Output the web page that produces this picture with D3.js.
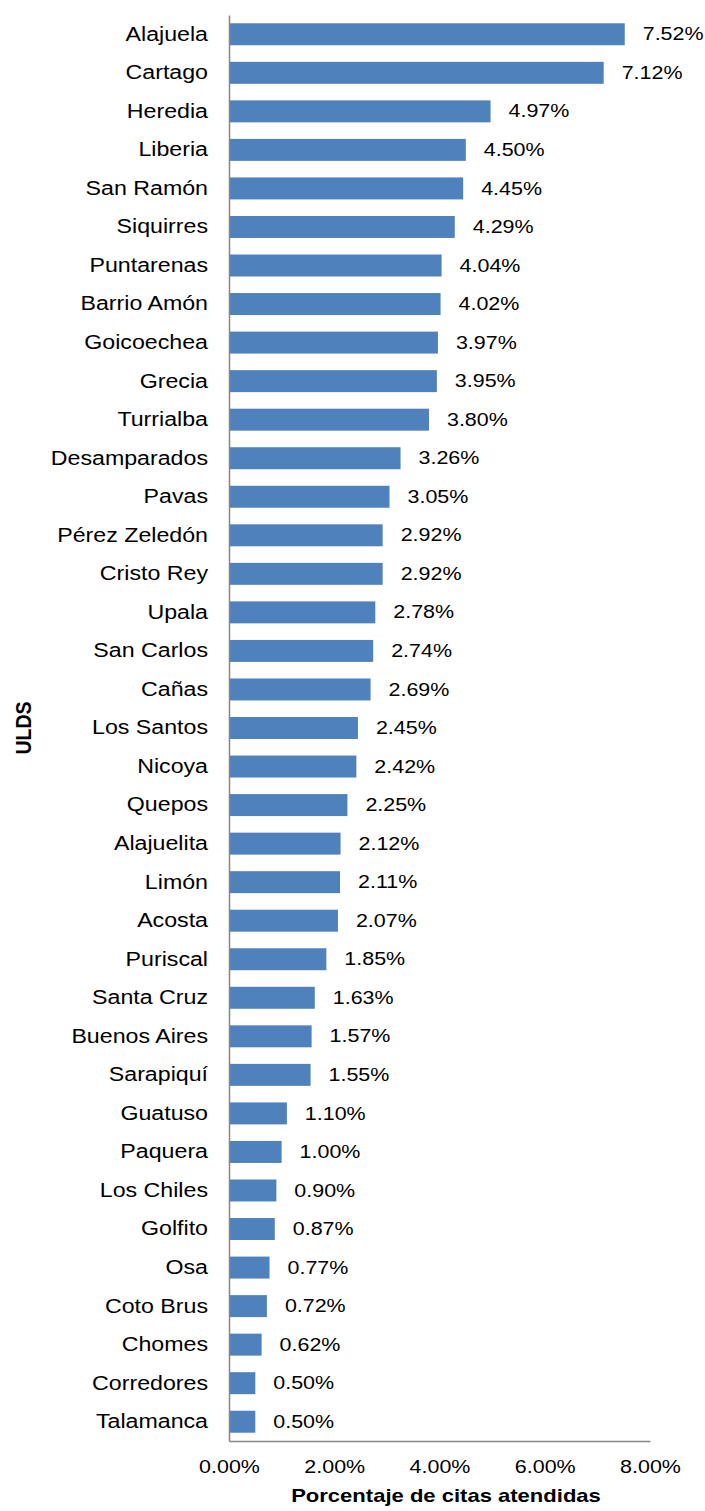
<!DOCTYPE html>
<html>
<head>
<meta charset="utf-8">
<script src="https://cdn.jsdelivr.net/npm/d3@7"></script>
<style>
  body { margin: 0; background: #fff; }
  text { font-family: "Liberation Sans", Arial, sans-serif; fill: #000; }
</style>
</head>
<body>
<svg id="chart" width="705" height="1511"></svg>
<script>
const categories = ["Alajuela", "Cartago", "Heredia", "Liberia", "San Ramón", "Siquirres", "Puntarenas",
    "Barrio Amón", "Goicoechea", "Grecia", "Turrialba", "Desamparados", "Pavas", "Pérez Zeledón",
    "Cristo Rey", "Upala", "San Carlos", "Cañas", "Los Santos", "Nicoya", "Quepos", "Alajuelita",
    "Limón", "Acosta", "Puriscal", "Santa Cruz", "Buenos Aires", "Sarapiquí", "Guatuso", "Paquera",
    "Los Chiles", "Golfito", "Osa", "Coto Brus", "Chomes", "Corredores", "Talamanca"];
const values = [7.52, 7.12, 4.97, 4.50, 4.45, 4.29, 4.04, 4.02, 3.97, 3.95, 3.80, 3.26, 3.05, 2.92,
    2.92, 2.78, 2.74, 2.69, 2.45, 2.42, 2.25, 2.12, 2.11, 2.07, 1.85, 1.63, 1.57, 1.55, 1.10, 1.00,
    0.90, 0.87, 0.77, 0.72, 0.62, 0.50, 0.50];
const xTicks = [0, 2, 4, 6, 8];

const data = categories.map((c, i) => ({ name: c, value: values[i] }));

const size = {
    width: 705,
    height: 1511,
    margin: { top: 15, right: 55, bottom: 70, left: 229 }
};
const svg = d3.select("#chart");
// the original picture is a bit wider than tall, so text is stretched sideways
const stretch = 1.16;

const x = d3.scaleLinear()
    .domain([0, 8])
    .range([size.margin.left, size.width - size.margin.right]);

const y = d3.scaleBand()
    .domain(categories)
    .range([size.margin.top, size.height - size.margin.bottom])
    .paddingInner(0.43)
    .paddingOuter(0.215);

// bars
svg.selectAll("rect.bar")
    .data(data)
    .join("rect")
    .attr("class", "bar")
    .attr("x", x(0))
    .attr("y", d => y(d.name))
    .attr("width", d => x(d.value) - x(0))
    .attr("height", y.bandwidth())
    .attr("fill", "#4F81BD");

// value labels
svg.selectAll("text.val")
    .data(data)
    .join("text")
    .attr("class", "val")
    .attr("transform", `scale(${stretch},1)`)
    .attr("x", d => (x(d.value) + 18) / stretch)
    .attr("y", d => y(d.name) + y.bandwidth() / 2)
    .attr("dy", "0.33em")
    .attr("font-size", 18.5)
    .text(d => d.value.toFixed(2) + "%");

// y axis
const yAxis = svg.append("g")
    .attr("transform", `translate(${x(0)},0)`)
    .call(d3.axisLeft(y).tickSize(0).tickPadding(20));
yAxis.select(".domain").attr("stroke", "#868686").attr("stroke-width", 1.5);
yAxis.selectAll("text")
    .attr("font-size", 20)
    .attr("font-family", "Liberation Sans, Arial, sans-serif")
    .attr("x", -21 / stretch)
    .attr("transform", `scale(${stretch},1)`);

// x axis
const xAxis = svg.append("g")
    .attr("transform", `translate(0,${size.height - size.margin.bottom})`)
    .call(d3.axisBottom(x).tickValues(xTicks).tickSize(0)
        .tickFormat(d => d.toFixed(2) + "%"));
xAxis.select(".domain").attr("stroke", "#868686").attr("stroke-width", 1.5);
xAxis.selectAll(".tick text")
    .attr("font-size", 18.5)
    .attr("font-family", "Liberation Sans, Arial, sans-serif")
    .attr("y", 32)
    .attr("dy", 0)
    .attr("transform", `scale(${stretch},1)`);

// labels
svg.append("text")
    .attr("transform", `translate(446,1502) scale(${stretch},1)`)
    .attr("text-anchor", "middle")
    .attr("font-size", 19)
    .attr("font-weight", "bold")
    .text("Porcentaje de citas atendidas");

svg.append("text")
    .attr("transform", `translate(31,728) scale(${stretch},1) rotate(-90)`)
    .attr("text-anchor", "middle")
    .attr("font-size", 19.5)
    .attr("font-weight", "bold")
    .text("ULDS");
</script>
</body>
</html>
